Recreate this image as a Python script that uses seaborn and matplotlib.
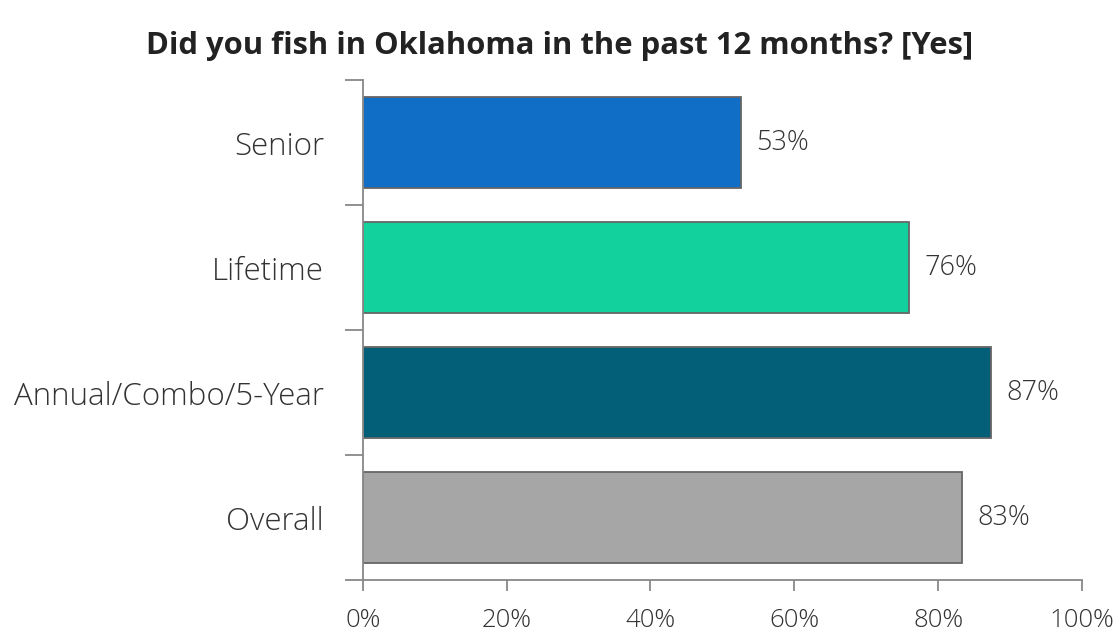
import matplotlib.pyplot as plt
import matplotlib.ticker as mticker
import numpy as np
import seaborn as sns
import pandas as pd

categories = ['Senior', 'Lifetime', 'Annual/Combo/5-Year', 'Overall']
values = [52.6, 76.0, 87.3, 83.3]
bar_colors = ['#106EC6', '#13D19C', '#035E78', '#A6A6A6']
title = 'Did you fish in Oklahoma in the past 12 months? [Yes]'

if __name__ == '__main__':
    sns.set_style('white')
    plt.rcParams['font.family'] = ['Open Sans', 'DejaVu Sans']

    df = pd.DataFrame({'group': categories, 'pct': values})
    fig = plt.figure(figsize=(11.2, 6.35), dpi=100)
    ax = fig.add_axes([0.324, 0.0866, 0.642, 0.7874])

    sns.barplot(data=df, x='pct', y='group', hue='group', palette=bar_colors,
                order=categories, width=0.73, edgecolor='#666666', linewidth=1.3,
                legend=False, ax=ax, saturation=1)

    for c in ax.containers:
        lbls = ax.bar_label(c, labels=['%d%%' % int(v + 0.5) for v in c.datavalues],
                            padding=11, fontsize=19.5, color='#333333', fontweight='light')
        for t in lbls:
            t.set_va('center')

    ax.set_xlim(0, 100)
    ax.set_ylim(3.5, -0.5)
    ax.xaxis.set_major_locator(mticker.MultipleLocator(20))
    ax.xaxis.set_major_formatter(mticker.FuncFormatter(lambda v, p: '%d%%' % v))
    ax.set_yticks(range(len(categories)))
    ax.set_yticks(np.arange(-0.5, len(categories)), minor=True)
    ax.tick_params(axis='y', which='major', length=0, pad=28, labelsize=22.5,
                   labelcolor='#333333')
    ax.tick_params(axis='y', which='minor', length=13, width=1.3, color='#888888',
                   direction='out', left=True)
    ax.tick_params(axis='x', which='major', length=8, width=1.3, color='#888888',
                   direction='out', bottom=True, pad=12, labelsize=18.5,
                   labelcolor='#333333')
    for lab in ax.get_xticklabels() + ax.get_yticklabels():
        lab.set_fontweight('light')

    ax.set_xlabel('')
    ax.set_ylabel('')
    for s in ['top', 'right']:
        ax.spines[s].set_visible(False)
    for s in ['left', 'bottom']:
        ax.spines[s].set_color('#888888')
        ax.spines[s].set_linewidth(1.3)

    fig.suptitle(title, fontsize=22.3, fontweight='bold', color='#222222',
                 y=0.927, va='center')
    fig.savefig('out.png', dpi=100)
